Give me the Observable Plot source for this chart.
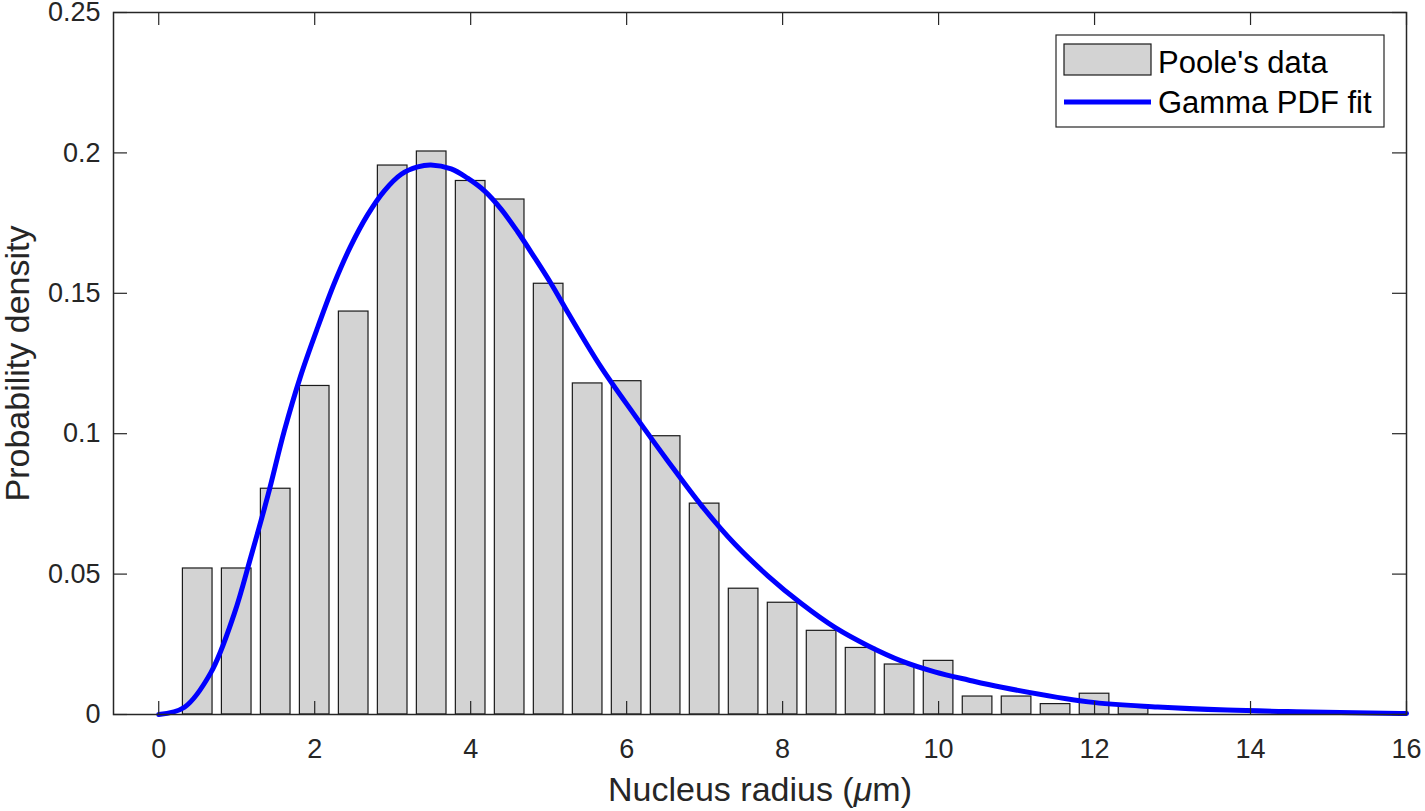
<!DOCTYPE html>
<html>
<head>
<meta charset="utf-8">
<script src="https://cdn.jsdelivr.net/npm/d3@7"></script>
<script src="https://cdn.jsdelivr.net/npm/@observablehq/plot@0.6"></script>
<style>
  html, body { margin: 0; padding: 0; background: #fff; }
  #chart svg { display: block; }
</style>
</head>
<body>
<div id="chart"></div>
<script>
// Histogram bins (centers, µm) and probability densities (Poole's data)
const binCenters = [0.5, 1.0, 1.5, 2.0, 2.5, 3.0, 3.5, 4.0, 4.5, 5.0, 5.5, 6.0, 6.5,
                    7.0, 7.5, 8.0, 8.5, 9.0, 9.5, 10.0, 10.5, 11.0, 11.5, 12.0, 12.5];
const binDensity = [0.052, 0.052, 0.0804, 0.117, 0.1435, 0.1955, 0.2005, 0.190, 0.1834, 0.1534,
                    0.1179, 0.1187, 0.0991, 0.0751, 0.0448, 0.0398, 0.0298, 0.0237, 0.0178, 0.0191,
                    0.0064, 0.0064, 0.0037, 0.0074, 0.0028];

// Gamma PDF fit
const fitX = [0, 0.33, 0.67, 0.97, 1.18, 1.40, 1.61, 1.82, 2.04, 2.25, 2.46, 2.68, 2.89, 3.11,
              3.32, 3.49, 3.75, 3.96, 4.18, 4.39, 4.60, 4.82, 5.03, 5.25, 5.67, 6.10, 6.53, 6.96,
              7.39, 7.81, 8.24, 8.67, 9.10, 9.52, 9.95, 10.38, 10.81, 11.92, 12.81, 13.70, 14.59, 15.92, 16];
const fitY = [0, 0.0026, 0.015, 0.036, 0.056, 0.078, 0.101, 0.1206, 0.138, 0.1535, 0.1667, 0.178, 0.1864, 0.1924,
              0.195, 0.1957, 0.1943, 0.191, 0.1864, 0.180, 0.172, 0.1627, 0.1535, 0.143, 0.1238, 0.1067, 0.0902, 0.0744,
              0.0606, 0.0494, 0.0395, 0.031, 0.0244, 0.0191, 0.0152, 0.0123, 0.0097, 0.0045, 0.0027, 0.0016, 0.001, 0.0004, 0.0004];

// Axis ticks
const xTicks = [0, 2, 4, 6, 8, 10, 12, 14, 16];
const xTickLabels = ["0", "2", "4", "6", "8", "10", "12", "14", "16"];
const yTicks = [0, 0.05, 0.1, 0.15, 0.2, 0.25];
const yTickLabels = ["0", "0.05", "0.1", "0.15", "0.2", "0.25"];

const xLabel = "Nucleus radius (\u03BCm)";
const yLabel = "Probability density";
const legendLabels = ["Poole's data", "Gamma PDF fit"];

const bars = binCenters.map((c, i) => ({x: c, y: binDensity[i]}));
const fit = fitX.map((x, i) => ({x, y: fitY[i]}));

const halfBar = 0.19;
const axisColor = "#262626";
const font = "'Liberation Sans', Arial, Helvetica, sans-serif";

const W = 1425, H = 811;
const mL = 113, mR = 19, mT = 12, mB = 97;
const frameW = W - mL - mR, frameH = H - mT - mB;
const tickLen = 13;

const chart = Plot.plot({
  width: W,
  height: H,
  marginLeft: mL,
  marginRight: mR,
  marginTop: mT,
  marginBottom: mB,
  style: {fontFamily: font, color: axisColor, background: "#fff", overflow: "visible"},
  x: {domain: [-0.58, 16]},
  y: {domain: [0, 0.25]},
  marks: [
    Plot.rectY(bars, {x1: d => d.x - halfBar, x2: d => d.x + halfBar, y1: 0, y2: "y",
                      fill: "#d3d3d3", stroke: "#1a1a1a", strokeWidth: 1.2}),
    Plot.line(fit, {x: "x", y: "y", stroke: "#0000ff", strokeWidth: 5, curve: "catmull-rom"}),
    // inward ticks, all four sides
    Plot.tickX(xTicks, {x: d => d, stroke: axisColor, strokeWidth: 1.2, insetTop: frameH - tickLen}),
    Plot.tickX(xTicks, {x: d => d, stroke: axisColor, strokeWidth: 1.2, insetBottom: frameH - tickLen}),
    Plot.tickY(yTicks, {y: d => d, stroke: axisColor, strokeWidth: 1.2, insetRight: frameW - 14}),
    Plot.tickY(yTicks, {y: d => d, stroke: axisColor, strokeWidth: 1.2, insetLeft: frameW - 14}),
    Plot.frame({stroke: axisColor, strokeWidth: 1.5}),
    Plot.axisX({ticks: xTicks, tickSize: 0, tickPadding: 24, fontSize: 27, label: null,
                tickFormat: (d) => xTickLabels[xTicks.indexOf(d)], fill: axisColor}),
    Plot.axisY({ticks: yTicks, tickSize: 0, tickPadding: 13, fontSize: 27, label: null,
                tickFormat: (d) => yTickLabels[yTicks.indexOf(d)], fill: axisColor}),
    Plot.text([xLabel], {text: d => d, frameAnchor: "bottom", lineAnchor: "bottom", textAnchor: "middle",
                         dy: 86, fontSize: 34, fill: axisColor}),
    Plot.text([yLabel], {text: d => d, frameAnchor: "left", lineAnchor: "bottom", textAnchor: "middle",
                         rotate: -90, dx: -85, fontSize: 34, fill: axisColor})
  ]
});

document.getElementById("chart").appendChild(chart);

// Italic µ in the x label (as in the TeX-rendered original)
d3.select(chart).selectAll("text").each(function () {
  const t = d3.select(this);
  if (this.childNodes.length === 1 && this.textContent === xLabel) {
    const [pre, post] = xLabel.split("\u03BC");
    t.text(null);
    t.append("tspan").text(pre);
    t.append("tspan").attr("font-style", "italic").text("\u03BC");
    t.append("tspan").text(post);
  }
});

// Legend (inside the axes, top right)
const svg = d3.select(chart);
const lg = svg.append("g").attr("font-family", font).attr("font-size", 31)
  .attr("fill", "#000").attr("text-anchor", "start");
lg.append("rect").attr("x", 1056).attr("y", 35).attr("width", 328).attr("height", 92)
  .attr("fill", "#fff").attr("stroke", axisColor).attr("stroke-width", 1.2);
lg.append("rect").attr("x", 1064).attr("y", 44).attr("width", 87).attr("height", 31)
  .attr("fill", "#d3d3d3").attr("stroke", "#1a1a1a").attr("stroke-width", 1.2);
lg.append("line").attr("x1", 1064).attr("x2", 1151).attr("y1", 102).attr("y2", 102)
  .attr("stroke", "#0000ff").attr("stroke-width", 5);
lg.append("text").attr("x", 1158).attr("y", 73).style("text-anchor", "start").text(legendLabels[0]);
lg.append("text").attr("x", 1158).attr("y", 113).style("text-anchor", "start").text(legendLabels[1]);
</script>
</body>
</html>
